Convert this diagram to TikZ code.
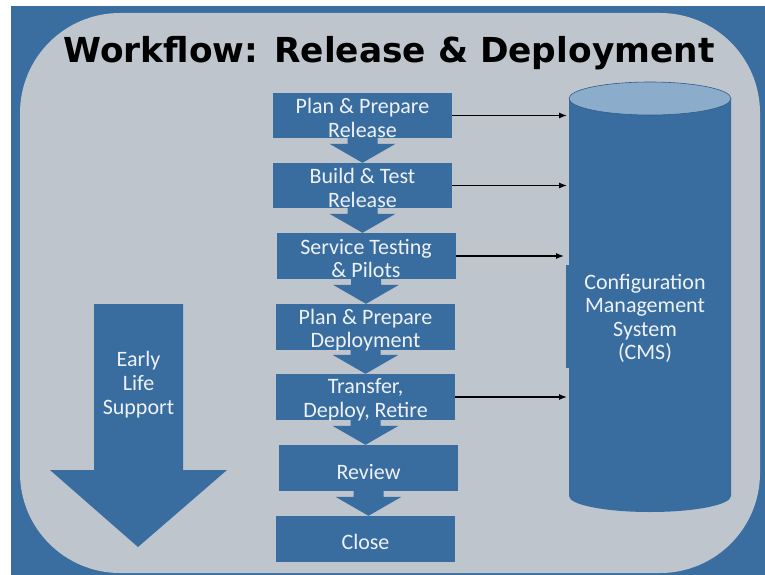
\documentclass[tikz,border=0pt]{standalone}
\usepackage{fontspec}
\setmainfont{Carlito}
\newfontfamily\titlefont{DejaVu Sans}
\usetikzlibrary{arrows.meta,calc}

\definecolor{frameblue}{RGB}{58,110,160}
\definecolor{panelgray}{RGB}{190,197,205}
\definecolor{boxblue}{RGB}{57,109,159}
\definecolor{captop}{RGB}{140,172,204}
\definecolor{labelwhite}{RGB}{238,242,247}

\pgfdeclarelayer{back}
\pgfdeclarelayer{flow}
\pgfsetlayers{back,flow,main}

% thick blue arrow from the bottom of one step to the top of the next
\newcommand\flowdown[2]{%
  \fill[boxblue] let \p1=(#1.south), \p2=(#2.north) in
    (\x1-15pt,\y1+2pt) -- (\x1+15pt,\y1+2pt) -- (\x1+15pt,\y2+19pt)
    -- (\x1+33pt,\y2+19pt) -- (\x1,\y2) -- (\x1-33pt,\y2+19pt)
    -- (\x1-15pt,\y2+19pt) -- cycle;}

\begin{document}
\begin{tikzpicture}[x=1pt,y=-1pt,
  light/.style={text=labelwhite, font=\fontsize{22}{23.5}\selectfont,
    align=center, inner sep=0pt},
  stepbox/.style 2 args={rectangle, fill=boxblue, minimum width=179pt,
    minimum height=46pt, inner sep=0pt,
    label={[light, yshift=#2]center:{#1}}},
  link/.style={-{Latex[length=8pt,width=6pt]}, line width=1.2pt, black},
]
\begin{pgfonlayer}{back}
\useasboundingbox (0,0) rectangle (765,575);
\fill[white] (0,0) rectangle (765,575);
\fill[frameblue] (11,6) rectangle (765,575);
\fill[panelgray, rounded corners=100pt] (20,13) rectangle (760,573);
\end{pgfonlayer}

% title
\node[anchor=base, inner sep=0pt] (title) at (389,63)
  {\titlefont\bfseries\fontsize{34.4}{38}\selectfont Workflow: Release \& Deployment};

% configuration management system cylinder
\coordinate (cmsedge) at (567,300);
\fill[boxblue] (569,98.5) -- (569,496)
  arc[start angle=180, end angle=360, x radius=81pt, y radius=16pt]
  -- (731,98.5) -- cycle;
\filldraw[fill=captop, draw=boxblue!85!black, line width=0.6pt]
  (650,98.5) ellipse[x radius=81pt, y radius=16.5pt];
\node[rectangle, fill=boxblue, minimum width=165pt, minimum height=103pt,
  inner sep=0pt] (cmsbox) at (648.5,316.5) {};
\node[light] (cms) at (645,318.5) {Configuration\\Management\\System\\(CMS)};

% early life support arrow
\fill[boxblue] (94,304) -- (183,304) -- (183,470) -- (227,470)
  -- (138,547) -- (50,470) -- (94,470) -- cycle;
\node[light, font=\fontsize{22}{24}\selectfont] (els) at (138.5,385)
  {Early\\Life\\Support};

% process steps
\node[stepbox={Plan \& Prepare\\Release}{-2.5pt}, minimum height=45pt] (s1) at (362.5,115.5) {};
\node[stepbox={Build \& Test\\Release}{-2.5pt}, minimum height=45pt] (s2) at (362.5,185.5) {};
\node[stepbox={Service Testing\\\& Pilots}{-2.5pt}] (s3) at (366,256) {};
\node[stepbox={Plan \& Prepare\\Deployment}{-3pt}] (s4) at (365.5,327) {};
\node[stepbox={Transfer,\\Deploy, Retire}{-2.5pt}] (s5) at (365.5,397) {};
\node[stepbox={Review}{-4pt}] (s6) at (368.5,468) {};
\node[stepbox={Close}{-3pt}] (s7) at (365.5,539) {};

\begin{pgfonlayer}{flow}
\flowdown{s1}{s2}
\flowdown{s2}{s3}
\flowdown{s3}{s4}
\flowdown{s4}{s5}
\flowdown{s5}{s6}
\flowdown{s6}{s7}
\end{pgfonlayer}

% links into the CMS
\draw[link] (s1.east) -- (s1.east -| cmsedge);
\draw[link] (s2.east) -- (s2.east -| cmsedge);
\draw[link] (s3.east) -- ([xshift=-3pt]s3.east -| cmsedge);
\draw[link] (s5.east) -- (s5.east -| cmsedge);
\end{tikzpicture}
\end{document}
